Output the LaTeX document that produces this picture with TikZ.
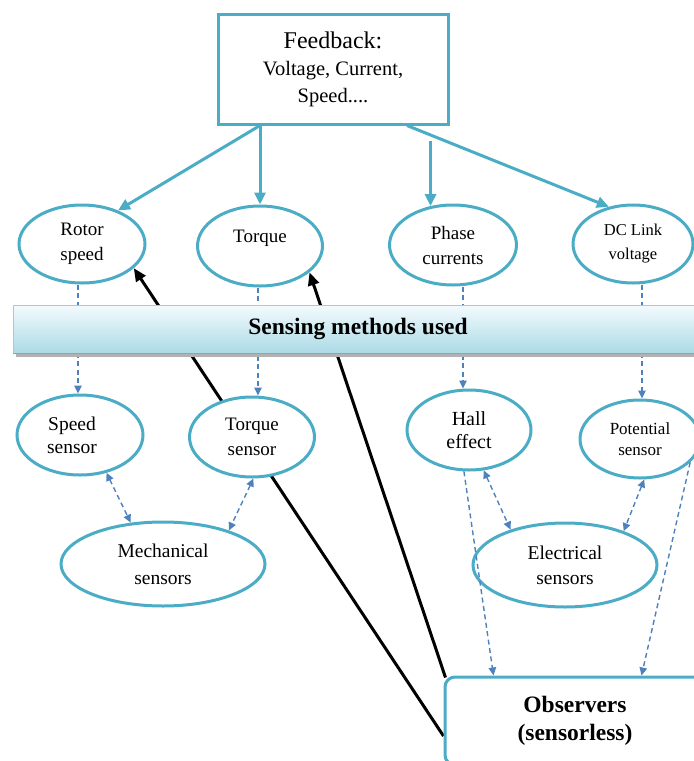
\documentclass[tikz,border=0pt]{standalone}
\usepackage{fontspec}
\setmainfont{Liberation Serif}
\usetikzlibrary{shapes.geometric,arrows.meta,calc,backgrounds}
\definecolor{aqua}{HTML}{4BACC6}
\definecolor{dashblue}{HTML}{4F81BD}
\definecolor{barTop}{HTML}{F3FBFD}
\definecolor{barBot}{HTML}{ABDAE6}
\definecolor{barEdge}{HTML}{A6CBD5}
\definecolor{barDark}{HTML}{84AAB5}

\begin{document}
\begin{tikzpicture}[x=1pt,y=-1pt,
  ellip/.style={ellipse, draw=aqua, line width=3pt, fill=white, inner sep=0pt,
    align=center, font=\fontsize{19}{25}\selectfont},
  lbl/.style={align=center, inner sep=0pt},
  fbarrow/.style={draw=aqua, line width=3pt, -{Triangle[length=12pt,width=11pt]}},
  dasharrow/.style={draw=dashblue, line width=1.4pt, dash pattern=on 5pt off 3.5pt,
    -{Triangle[length=8pt,width=7.5pt]}},
  dasharrows/.style={dasharrow, {Triangle[length=8pt,width=7.5pt]}-{Triangle[length=8pt,width=7.5pt]}},
  obsline/.style={draw=black, line width=3pt, -{Triangle[length=13pt,width=11pt]}},
]
\useasboundingbox (0,0) rectangle (694,761);
\clip (0,0) rectangle (694,761);

% top box
\node[draw=aqua, line width=3pt, minimum width=230pt, minimum height=110pt,
      inner sep=0pt, align=center, font=\fontsize{20.5}{27}\selectfont] (fb) at (333,69)
  {{\fontsize{24}{27}\selectfont Feedback:}\\Voltage, Current,\\Speed....};

% quantities
\node[ellip, minimum width=126pt, minimum height=78pt] (rotor) at (82,244) {Rotor\\speed};
\node[ellip, minimum width=125pt, minimum height=80pt,
      label={[lbl, font=\fontsize{19}{25}\selectfont, yshift=8pt]center:Torque}] (torque) at (260,246) {};
\node[ellip, minimum width=127pt, minimum height=80pt] (phase) at (453,245) {Phase\\currents};
\node[ellip, minimum width=120pt, minimum height=78pt, font=\fontsize{16.5}{24}\selectfont] (dclink) at (633,244) {DC Link\\voltage};

% sensors
\node[ellip, minimum width=126pt, minimum height=80pt,
      label={[lbl, font=\fontsize{19.5}{23}\selectfont, xshift=-8pt]center:Speed\\sensor}] (speeds) at (80,435) {};
\node[ellip, minimum width=125pt, minimum height=80pt] (torques) at (252,437) {Torque\\sensor};
\node[ellip, minimum width=204pt, minimum height=84pt, font=\fontsize{19.5}{27}\selectfont] (mech) at (163,564) {Mechanical\\sensors};
\node[ellip, minimum width=124pt, minimum height=80pt, font=\fontsize{20}{23}\selectfont] (hall) at (469,430) {Hall\\effect};
\node[ellip, minimum width=120pt, minimum height=78pt, font=\fontsize{17}{21}\selectfont] (pot) at (640,439) {Potential\\sensor};
\node[ellip, minimum width=184pt, minimum height=84pt, font=\fontsize{19.5}{25}\selectfont] (elec) at (565,565) {Electrical\\sensors};

% observer box
\node[draw=aqua, line width=3pt, rounded corners=10pt, fill=white, minimum width=260pt,
      minimum height=88pt, inner sep=0pt, align=center,
      font=\bfseries\fontsize{23.5}{28}\selectfont] (obs) at (575,721) {Observers\\(sensorless)};

% feedback arrows
\draw[fbarrow] ([xshift=-73pt]fb.south) -- (rotor.43);
\draw[fbarrow] (torque.north |- fb.south) -- (torque.north);
\draw[fbarrow] ($(phase.120 |- fb.south)+(0,15)$) -- (phase.120);
\draw[fbarrow] ([xshift=74pt]fb.south) -- (dclink.123);

% quantity to sensor
\draw[dasharrow] ([xshift=-4pt]rotor.south) -- ([xshift=-4pt]rotor.south |- speeds.north);
\draw[dasharrow] ([xshift=-2pt]torque.south) -- ([xshift=-2pt]torque.south |- torques.north);
\draw[dasharrow] ([xshift=10pt]phase.south) -- ([xshift=10pt]phase.south |- hall.north);
\draw[dasharrow] ([xshift=9pt]dclink.south) -- ([xshift=9pt]dclink.south |- pot.north);

% sensor groups
\draw[dasharrows] (speeds.-55) -- (mech.128);
\draw[dasharrows] (torques.-88) -- (mech.27);
\draw[dasharrows] (hall.-70) -- (elec.147);
\draw[dasharrows] (pot.-84) -- (elec.30);
\draw[dasharrow] (hall.-97) -- ([xshift=50pt]obs.north west);
\draw[dasharrow] (pot.-25) -- ([xshift=198pt]obs.north west);

% sensorless estimation, passing behind the ellipses
\begin{scope}[on background layer]
\draw[obsline] ([yshift=-15pt]obs.west) -- (rotor.-25);
\draw[obsline] ([xshift=2pt,yshift=-2pt]obs.north west) -- (torque.-28);
\end{scope}

% banner
\fill[black!30] (16,352) rectangle (703,357);
\node[draw=barEdge, line width=1pt, top color=barTop, bottom color=barBot,
      minimum width=690pt, minimum height=48pt, inner sep=0pt,
      font=\bfseries\fontsize{23.5}{28}\selectfont] (bar) at (358,329) {Sensing methods used};
\draw[barDark, line width=1.5pt] (bar.south west) -- (bar.south east);
\end{tikzpicture}
\end{document}
